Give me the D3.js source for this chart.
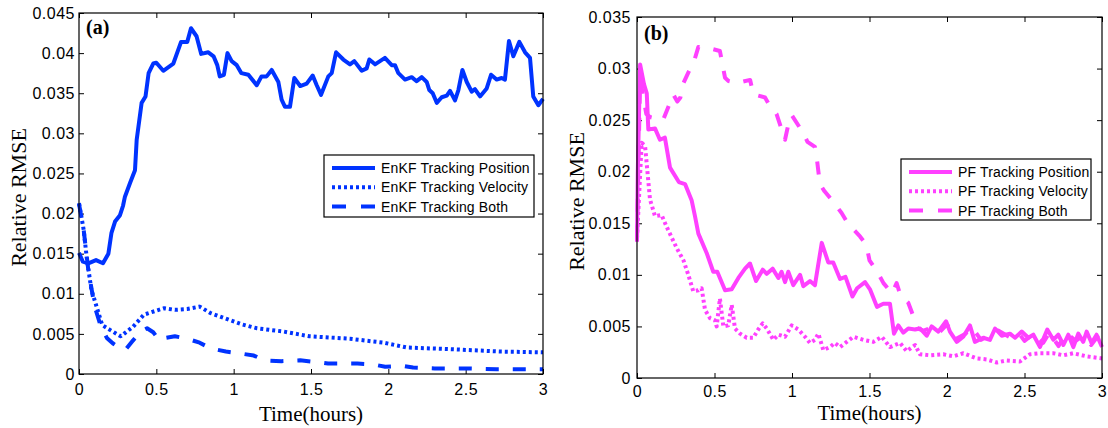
<!DOCTYPE html>
<html>
<head>
<meta charset="utf-8">
<script src="https://cdn.jsdelivr.net/npm/d3@7"></script>
<style>
  body { margin: 0; background: #fff; }
  svg { display: block; }
</style>
</head>
<body>
<div id="chart"></div>
<script>

// time axis (hours) shared by both panels
const timeTicks = [0, 0.5, 1, 1.5, 2, 2.5, 3]
const timeTickLabels = ["0", "0.5", "1", "1.5", "2", "2.5", "3"]

const enkfTicks = [0, 0.005, 0.01, 0.015, 0.02, 0.025, 0.03, 0.035, 0.04, 0.045]
const enkfTickLabels = ["0", "0.005", "0.01", "0.015", "0.02", "0.025", "0.03", "0.035", "0.04", "0.045"]
const pfTicks = [0, 0.005, 0.01, 0.015, 0.02, 0.025, 0.03, 0.035]
const pfTickLabels = ["0", "0.005", "0.01", "0.015", "0.02", "0.025", "0.03", "0.035"]

const enkfLegend = ["EnKF Tracking Position", "EnKF Tracking Velocity", "EnKF Tracking Both"]
const pfLegend = ["PF Tracking Position", "PF Tracking Velocity", "PF Tracking Both"]

// [time, relative RMSE]
const enkfPosition = [
    [0, 0.0151], [0.025, 0.0140], [0.06, 0.0138], [0.11, 0.0142], [0.155, 0.0138], [0.19, 0.0150],
    [0.21, 0.0176], [0.233, 0.0190], [0.265, 0.0198], [0.285, 0.0210], [0.297, 0.0221], [0.33, 0.0238],
    [0.362, 0.0254], [0.373, 0.0292], [0.405, 0.0338], [0.43, 0.0346], [0.45, 0.0375], [0.48, 0.0387],
    [0.5, 0.0388], [0.545, 0.0378], [0.61, 0.0387], [0.66, 0.0414], [0.7, 0.0414], [0.724, 0.0431],
    [0.76, 0.0421], [0.79, 0.0399], [0.836, 0.0401], [0.87, 0.0396], [0.894, 0.0385], [0.91, 0.0371],
    [0.937, 0.0373], [0.96, 0.0400], [0.987, 0.0390], [1.02, 0.0385], [1.05, 0.0375], [1.095, 0.0373],
    [1.149, 0.0360], [1.18, 0.0371], [1.213, 0.0371], [1.246, 0.0379], [1.289, 0.0364], [1.31, 0.0342],
    [1.332, 0.0333], [1.364, 0.0333], [1.392, 0.0369], [1.43, 0.0359], [1.472, 0.0362], [1.511, 0.0372],
    [1.537, 0.0360], [1.565, 0.0348], [1.612, 0.0371], [1.634, 0.0375], [1.662, 0.0401], [1.709, 0.0392],
    [1.752, 0.0386], [1.78, 0.0390], [1.828, 0.0378], [1.86, 0.0381], [1.877, 0.0392], [1.914, 0.0386],
    [1.978, 0.0394], [2.022, 0.0385], [2.043, 0.0385], [2.065, 0.0375], [2.108, 0.0367], [2.151, 0.0370],
    [2.183, 0.0365], [2.216, 0.0370], [2.248, 0.0364], [2.265, 0.0354], [2.287, 0.0350], [2.313, 0.0338],
    [2.345, 0.0345], [2.378, 0.0347], [2.399, 0.0353], [2.431, 0.0341], [2.453, 0.0354], [2.479, 0.0379],
    [2.507, 0.0364], [2.539, 0.0352], [2.56, 0.0355], [2.593, 0.0346], [2.636, 0.0356], [2.664, 0.0373],
    [2.7, 0.0367], [2.733, 0.0369], [2.754, 0.0367], [2.78, 0.0415], [2.808, 0.0396], [2.847, 0.0414],
    [2.884, 0.0401], [2.916, 0.0394], [2.937, 0.0346], [2.97, 0.0335], [3.0, 0.0343]
]
const enkfVelocity = [
    [0, 0.0213], [0.03, 0.0180], [0.05, 0.0145], [0.08, 0.0105], [0.12, 0.0080], [0.15, 0.0061],
    [0.2, 0.0055], [0.27, 0.0047], [0.35, 0.0059], [0.42, 0.0074], [0.5, 0.0079], [0.55, 0.0082],
    [0.62, 0.0080], [0.7, 0.0081], [0.78, 0.0084], [0.85, 0.0076], [0.95, 0.0069], [1.05, 0.0062],
    [1.15, 0.0057], [1.32, 0.0053], [1.49, 0.0047], [1.75, 0.0044], [1.97, 0.0039], [2.12, 0.0033],
    [2.4, 0.0031], [2.72, 0.0028], [3.0, 0.0027]
]
const enkfBoth = [
    [0, 0.0212], [0.03, 0.0180], [0.06, 0.0130], [0.1, 0.0085], [0.14, 0.0060], [0.18, 0.0045],
    [0.22, 0.0038], [0.26, 0.0033], [0.3, 0.0030], [0.35, 0.0042], [0.4, 0.0053], [0.44, 0.0057],
    [0.48, 0.0052], [0.52, 0.0042], [0.56, 0.0045], [0.62, 0.0047], [0.7, 0.0044], [0.78, 0.0039],
    [0.85, 0.0032], [0.95, 0.0028], [1.03, 0.0026], [1.13, 0.0023], [1.2, 0.0017], [1.31, 0.0016],
    [1.43, 0.0017], [1.53, 0.0015], [1.61, 0.0013], [1.8, 0.0013], [1.9, 0.0012], [1.98, 0.0009],
    [2.1, 0.0010], [2.16, 0.0008], [2.3, 0.0007], [2.5, 0.0007], [2.7, 0.0006], [3.0, 0.0006]
]

const pfPosition = [
    [0, 0.0132], [0.005, 0.0200], [0.02, 0.0304], [0.045, 0.0285], [0.063, 0.0276], [0.073, 0.0241],
    [0.116, 0.0242], [0.148, 0.0231], [0.18, 0.0233], [0.213, 0.0204], [0.27, 0.0190], [0.31, 0.0188],
    [0.353, 0.0172], [0.374, 0.0157], [0.396, 0.0140], [0.45, 0.0121], [0.492, 0.0103], [0.518, 0.0103],
    [0.568, 0.0085], [0.611, 0.0086], [0.654, 0.0097], [0.697, 0.0106], [0.729, 0.0111], [0.768, 0.0094],
    [0.811, 0.0105], [0.837, 0.0101], [0.875, 0.0106], [0.912, 0.0097], [0.933, 0.0103], [0.955, 0.0093],
    [0.976, 0.0103], [1.008, 0.0090], [1.052, 0.0100], [1.073, 0.0089], [1.116, 0.0094], [1.148, 0.0090],
    [1.192, 0.0131], [1.234, 0.0112], [1.266, 0.0112], [1.31, 0.0096], [1.345, 0.0098], [1.39, 0.0079],
    [1.42, 0.0087], [1.471, 0.0093], [1.503, 0.0086], [1.548, 0.0069], [1.589, 0.0072], [1.632, 0.0072],
    [1.658, 0.0043], [1.686, 0.0051], [1.718, 0.0044], [1.75, 0.0048], [1.794, 0.0047], [1.826, 0.0048],
    [1.869, 0.0041], [1.901, 0.0050], [1.944, 0.0045], [1.994, 0.0055], [2.019, 0.0045], [2.063, 0.0035],
    [2.105, 0.0040], [2.148, 0.0051], [2.18, 0.0035], [2.234, 0.0039], [2.277, 0.0037], [2.31, 0.0048],
    [2.353, 0.0041], [2.406, 0.0043], [2.439, 0.0039], [2.482, 0.0045], [2.525, 0.0039], [2.557, 0.0042],
    [2.6, 0.0030], [2.647, 0.0047], [2.686, 0.0037], [2.718, 0.0042], [2.751, 0.0032], [2.783, 0.0042],
    [2.815, 0.0030], [2.847, 0.0043], [2.879, 0.0035], [2.901, 0.0045], [2.933, 0.0034], [2.965, 0.0042],
    [3.0, 0.0030]
]
const pfVelocity = [
    [0, 0.0135], [0.03, 0.0228], [0.052, 0.0225], [0.084, 0.0173], [0.116, 0.0157], [0.159, 0.0158],
    [0.19, 0.0147], [0.256, 0.0126], [0.3, 0.0114], [0.331, 0.0100], [0.363, 0.0084], [0.396, 0.0085],
    [0.417, 0.0087], [0.439, 0.0066], [0.471, 0.0058], [0.503, 0.0056], [0.514, 0.0050], [0.535, 0.0077],
    [0.557, 0.0050], [0.589, 0.0051], [0.611, 0.0071], [0.632, 0.0048], [0.665, 0.0043], [0.708, 0.0039],
    [0.75, 0.0039], [0.782, 0.0047], [0.811, 0.0053], [0.837, 0.0048], [0.88, 0.0037], [0.912, 0.0042],
    [0.955, 0.0040], [0.998, 0.0051], [1.041, 0.0047], [1.084, 0.0040], [1.116, 0.0034], [1.148, 0.0037],
    [1.17, 0.0043], [1.202, 0.0027], [1.245, 0.0030], [1.277, 0.0034], [1.31, 0.0030], [1.396, 0.0040],
    [1.46, 0.0037], [1.525, 0.0035], [1.579, 0.0040], [1.632, 0.0030], [1.697, 0.0034], [1.74, 0.0026],
    [1.794, 0.0032], [1.826, 0.0023], [1.89, 0.0022], [1.976, 0.0023], [2.041, 0.0021], [2.105, 0.0024],
    [2.192, 0.0019], [2.256, 0.0018], [2.321, 0.0015], [2.385, 0.0017], [2.471, 0.0016], [2.535, 0.0023],
    [2.6, 0.0024], [2.686, 0.0024], [2.751, 0.0022], [2.815, 0.0024], [2.901, 0.0021], [3.0, 0.0019]
]
const pfBoth = [
    [0, 0.0135], [0.02, 0.0290], [0.06, 0.0256], [0.084, 0.0253], [0.168, 0.0250], [0.2, 0.0262],
    [0.234, 0.0275], [0.26, 0.0268], [0.28, 0.0272], [0.3, 0.0286], [0.374, 0.0310], [0.396, 0.0321],
    [0.46, 0.0320], [0.535, 0.0317], [0.568, 0.0291], [0.59, 0.0288], [0.645, 0.0286], [0.73, 0.0289],
    [0.75, 0.0275], [0.826, 0.0272], [0.86, 0.0263], [0.9, 0.0256], [0.955, 0.0231], [0.975, 0.0245],
    [0.998, 0.0255], [1.07, 0.0238], [1.1, 0.0229], [1.148, 0.0224], [1.16, 0.0213], [1.18, 0.0188],
    [1.21, 0.0181], [1.26, 0.0172], [1.32, 0.0160], [1.36, 0.0150], [1.44, 0.0137], [1.48, 0.0129],
    [1.5, 0.0114], [1.55, 0.0103], [1.59, 0.0092], [1.645, 0.0082], [1.675, 0.0092], [1.7, 0.0080],
    [1.75, 0.0073], [1.78, 0.0061], [1.81, 0.0048], [1.85, 0.0046], [1.9, 0.0049], [1.95, 0.0044],
    [2.0, 0.0052], [2.06, 0.0038], [2.12, 0.0043], [2.16, 0.0049], [2.22, 0.0037], [2.28, 0.0042],
    [2.33, 0.0046], [2.4, 0.0040], [2.46, 0.0044], [2.5, 0.0036], [2.56, 0.0043], [2.62, 0.0034],
    [2.66, 0.0044], [2.72, 0.0031], [2.77, 0.0044], [2.83, 0.0036], [2.88, 0.0041], [2.93, 0.0032],
    [2.97, 0.0040], [3.0, 0.0036]
]

const width = 1108
const height = 428
const blue = "#0033ff"
const magenta = "#ff40ff"
const dashes = [null, "3,3", "13,14"]

const svg = d3.select("#chart")
    .append("svg")
    .attr("width", width)
    .attr("height", height)

const sansFont = "'Liberation Sans', Arial, sans-serif"
const serifFont = "'Liberation Serif', 'Times New Roman', serif"

const drawPanel = (p) => {
    const x = d3.scaleLinear().domain([0, 3]).range([p.left, p.right])
    const y = d3.scaleLinear().domain([0, p.yMax]).range([p.bottom, p.top])
    const g = svg.append("g")

    const styleAxis = (axisG) => {
        axisG.select(".domain").remove()
        axisG.selectAll("line").attr("stroke", "#000")
        axisG.selectAll("text")
            .attr("fill", "#000")
            .style("font-family", sansFont)
            .style("font-size", "16px")
            .style("letter-spacing", "0.5px")
    }

    g.append("g")
        .attr("transform", `translate(0,${p.bottom})`)
        .call(d3.axisBottom(x).tickValues(timeTicks).tickFormat((d, i) => timeTickLabels[i])
            .tickSizeInner(-5).tickSizeOuter(0).tickPadding(p.xPad))
        .call(styleAxis)
    g.append("g")
        .attr("transform", `translate(0,${p.top})`)
        .call(d3.axisTop(x).tickValues(timeTicks).tickFormat("").tickSizeInner(-5).tickSizeOuter(0))
        .call(styleAxis)
    g.append("g")
        .attr("transform", `translate(${p.left},0)`)
        .call(d3.axisLeft(y).tickValues(p.yTicks).tickFormat((d, i) => p.yLabels[i])
            .tickSizeInner(-5).tickSizeOuter(0).tickPadding(p.yPad))
        .call(styleAxis)
    g.append("g")
        .attr("transform", `translate(${p.right},0)`)
        .call(d3.axisRight(y).tickValues(p.yTicks).tickFormat("").tickSizeInner(-5).tickSizeOuter(0))
        .call(styleAxis)

    const line = d3.line().x(d => x(d[0])).y(d => y(d[1]))

    g.append("g")
        .selectAll("path")
        .data(p.series)
        .join("path")
        .attr("d", d => line(d))
        .attr("fill", "none")
        .attr("stroke", p.color)
        .attr("stroke-width", 4)
        .attr("stroke-linejoin", "round")
        .attr("stroke-dasharray", (d, i) => dashes[i])

    // plot frame
    g.append("rect")
        .attr("x", p.left)
        .attr("y", p.top)
        .attr("width", p.right - p.left)
        .attr("height", p.bottom - p.top)
        .attr("fill", "none")
        .attr("stroke", "#000")
        .attr("stroke-width", 1.2)

    g.append("text")
        .attr("x", p.left + 7)
        .attr("y", p.top + p.tagDy)
        .style("font-family", serifFont)
        .style("font-weight", "bold")
        .style("font-size", "20px")
        .text(p.tag)

    g.append("text")
        .attr("x", (p.left + p.right) / 2)
        .attr("y", p.xLabelY)
        .attr("text-anchor", "middle")
        .style("font-family", serifFont)
        .style("font-size", "21px")
        .text("Time(hours)")

    g.append("text")
        .attr("transform", `translate(${p.yLabelX},${(p.top + p.bottom) / 2 + 4}) rotate(-90)`)
        .attr("text-anchor", "middle")
        .style("font-family", serifFont)
        .style("font-size", "22px")
        .text("Relative RMSE")

    // legend
    const lg = g.append("g").attr("transform", `translate(${p.legend.x},${p.legend.y})`)
    lg.append("rect")
        .attr("width", p.legend.w)
        .attr("height", p.legend.h)
        .attr("fill", "#fff")
        .attr("stroke", "#000")
        .attr("stroke-width", 1.2)
    const items = lg.selectAll(".legend-item")
        .data(p.legendLabels)
        .join("g")
        .attr("class", "legend-item")
        .attr("transform", (d, i) => `translate(0, ${13 + i * 19.3})`)
    items.append("line")
        .attr("x1", 8)
        .attr("x2", 51)
        .attr("stroke", p.color)
        .attr("stroke-width", 4)
        .attr("stroke-dasharray", (d, i) => i === 2 ? "14,15" : dashes[i])
    items.append("text")
        .attr("x", 57)
        .attr("y", 5)
        .style("font-family", sansFont)
        .style("font-size", "14px")
        .style("letter-spacing", "0.15px")
        .text(d => d)
}

drawPanel({
    left: 79, right: 543, top: 13, bottom: 374,
    yMax: 0.045, yTicks: enkfTicks, yLabels: enkfTickLabels,
    xPad: 10, yPad: 4,
    series: [enkfPosition, enkfVelocity, enkfBoth],
    color: blue, tag: "(a)", tagDy: 21,
    xLabelY: 421, yLabelX: 26,
    legend: { x: 324, y: 155, w: 210, h: 62 },
    legendLabels: enkfLegend
})

drawPanel({
    left: 637, right: 1102, top: 17, bottom: 378,
    yMax: 0.035, yTicks: pfTicks, yLabels: pfTickLabels,
    xPad: 8, yPad: 6,
    series: [pfPosition, pfVelocity, pfBoth],
    color: magenta, tag: "(b)", tagDy: 23,
    xLabelY: 420, yLabelX: 584,
    legend: { x: 901, y: 159, w: 190, h: 61 },
    legendLabels: pfLegend
})

</script>
</body>
</html>
